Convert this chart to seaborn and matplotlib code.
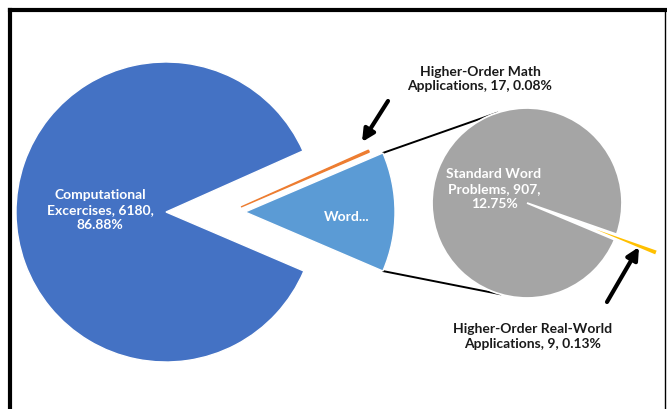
import numpy as np
import matplotlib.pyplot as plt
import seaborn as sns

sns.set_theme(style="white")
plt.rcParams['font.family'] = ['Lato', 'DejaVu Sans']

# ---- data ----
sub_names = ["Standard Word Problems", "Higher-Order Real-World Applications"]
sub_values = [907, 9]
main_names = ["Word...", "Higher-Order Math Applications", "Computational Excercises"]
main_values = [sum(sub_values), 17, 6180]

main_labels = ["Word...",
               "Higher-Order Math\nApplications, 17, 0.08%",
               "Computational\nExcercises, 6180,\n86.88%"]
sub_labels = ["Standard Word\nProblems, 907,\n12.75%",
              "Higher-Order Real-World\nApplications, 9, 0.13%"]

main_colors = ["#5B9BD5", "#ED7D31", "#4472C4"]
sub_colors = ["#A5A5A5", "#FFC000"]

# ---- layout (pixel units, y up) ----
W, H = 667, 410
c_main = (166, 197)
c_word = (245, 197)
c_math = (241, 202)
r_main = 150
c_sub = (527, 206)
r_sub = 95

fig = plt.figure(figsize=(W / 100, H / 100), dpi=100)
ax = fig.add_axes([0, 0, 1, 1])

edge = dict(edgecolor="white", linewidth=1)
half = 180 * main_values[0] / sum(main_values)

# main pie - only the big slice stays, the rest is pulled out below
w_main, _ = ax.pie(main_values, colors=main_colors, startangle=-half,
                   center=c_main, radius=r_main, wedgeprops=edge)
w_main[0].set_visible(False)
w_main[1].set_visible(False)

# pulled-out "Word..." slice
w_out, _ = ax.pie(main_values, colors=main_colors, startangle=-half,
                  center=c_word, radius=r_main, wedgeprops=edge)
w_out[1].set_visible(False)
w_out[2].set_visible(False)

# pulled-out "Higher-Order Math" sliver
w_math, _ = ax.pie(main_values, colors=main_colors, startangle=-half,
                   center=c_math, radius=r_main * 0.93,
                   wedgeprops=dict(edgecolor=main_colors[1], linewidth=1.0))
w_math[0].set_visible(False)
w_math[2].set_visible(False)

# secondary pie (explode is in data units here)
yellow_dir = -21
start2 = yellow_dir + 180 * sub_values[1] / sum(sub_values)
w_sub, _ = ax.pie(sub_values, colors=sub_colors, startangle=start2, center=c_sub,
                  radius=r_sub, explode=[0, 44],
                  wedgeprops=dict(edgecolor="white", linewidth=1.3))

# connector lines
for a_word, a_sub in [(half, 108), (-half, -106)]:
    p0 = (c_word[0] + r_main * np.cos(np.radians(a_word)), c_word[1] + r_main * np.sin(np.radians(a_word)))
    p1 = (c_sub[0] + r_sub * np.cos(np.radians(a_sub)), c_sub[1] + r_sub * np.sin(np.radians(a_sub)))
    ax.plot([p0[0], p1[0]], [p0[1], p1[1]], color="black", lw=1.4, zorder=0)

# labels
lab = dict(ha="center", va="center", fontsize=10, fontweight="bold", linespacing=1.3)
ax.text(100, 200, main_labels[2], color="white", **lab)
ax.text(347, 193, main_labels[0], color="white", **lab)
ax.text(494, 221, sub_labels[0], color="white", **lab)
ax.text(480, 331, main_labels[1], color="#1a1a1a", **lab)
ax.text(533, 73, sub_labels[1], color="#1a1a1a", **lab)

# arrows
arrow = dict(arrowstyle="-|>", lw=3, color="black", mutation_scale=18, shrinkA=0, shrinkB=0)
ax.annotate("", xy=(362, 267), xytext=(388, 308), arrowprops=arrow)
ax.annotate("", xy=(639, 162), xytext=(607, 107), arrowprops=arrow)

# frame
ax.plot([10, 10], [0, 399], color="black", lw=3, solid_capstyle="projecting")
ax.plot([10, W], [399, 399], color="black", lw=3, solid_capstyle="projecting")
ax.plot([665, 665], [0, 399], color="black", lw=1)

ax.set_xlim(0, W)
ax.set_ylim(0, H)
ax.set_aspect("equal")
ax.axis("off")

fig.savefig("out.png", dpi=100, facecolor="white")
